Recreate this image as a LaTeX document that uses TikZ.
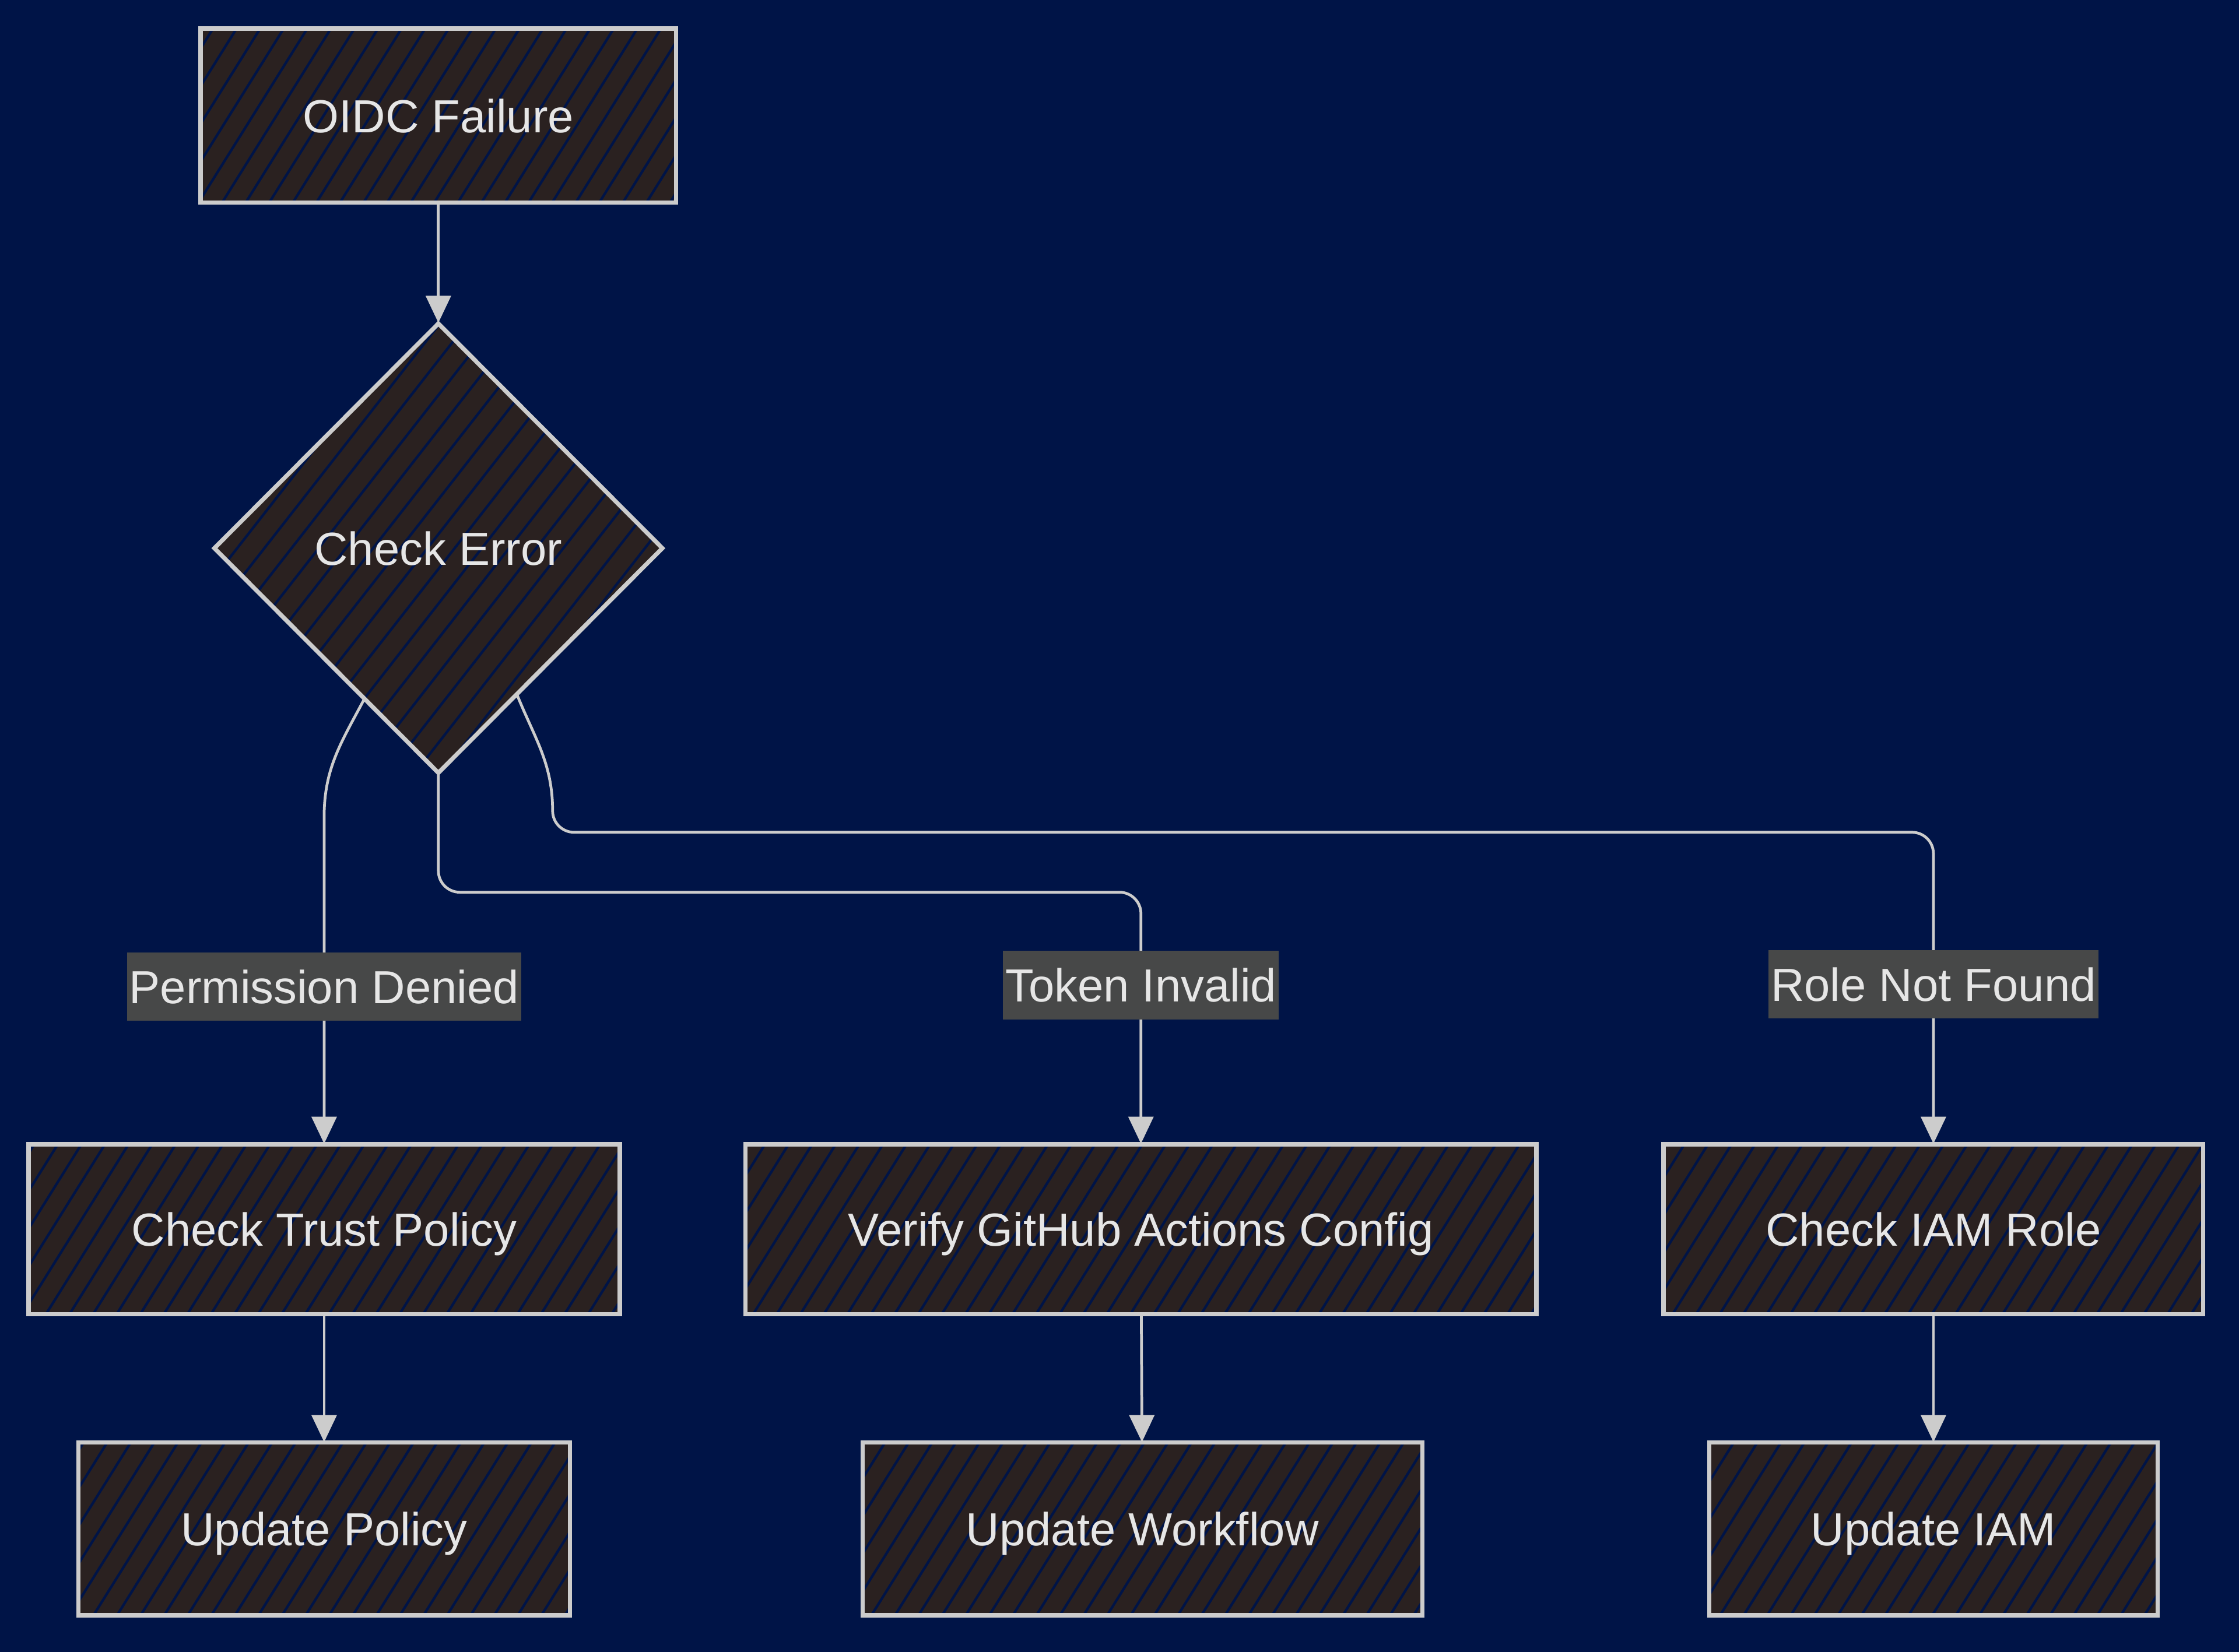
\documentclass[tikz,border=0pt]{standalone}
\usepackage{fontspec}
\setmainfont{Liberation Sans}
\usepackage{xcolor}
\usepackage{tikz}
\usetikzlibrary{shapes.geometric, arrows.meta, calc, patterns.meta}

\definecolor{bgblue}{HTML}{001447}
\definecolor{nodebrown}{HTML}{2A2120}
\definecolor{edgegray}{HTML}{CCCCCC}
\definecolor{labelgray}{HTML}{474848}
\definecolor{textgray}{HTML}{E6E6E6}

\begin{document}
\begin{tikzpicture}[x=0.2mm, y=-0.2mm, >={Triangle[length=0.38cm,width=0.35cm]},
    every node/.style={font=\fontsize{18.5}{22}\selectfont, text=textgray,
        text height=13.3pt, text depth=0pt},
    box/.style={rectangle, inner sep=0pt, fill=nodebrown,
        postaction={pattern={Lines[angle=58,distance=0.28cm,line width=1pt]}, pattern color=bgblue},
        postaction={draw=edgegray, line width=1.7pt}},
    scelta/.style={diamond, inner sep=0pt, fill=nodebrown,
        postaction={pattern={Lines[angle=52,distance=0.3cm,line width=1pt]}, pattern color=bgblue},
        postaction={draw=edgegray, line width=1.7pt}},
    lbl/.style={sharp corners, fill=labelgray, inner xsep=1pt, inner ysep=0pt, minimum height=0.96cm},
    conn/.style={->, draw=edgegray, line width=1.1pt}]
        % Sfondo e dimensioni
        \useasboundingbox (0,0) rectangle (1568,1157);
        \fill[bgblue] (0,0) rectangle (1568,1157);
        
        % Nodo iniziale e decisione
        \node[box, minimum width=6.66cm, minimum height=2.44cm] (oidc) at (307,81) {OIDC Failure};
        \node[scelta, minimum width=6.28cm, minimum height=6.3cm] (check) at (307,384) {Check Error};
        
        % Controlli
        \node[box, minimum width=8.28cm, minimum height=2.38cm] (trust) at (227,861) {Check Trust Policy};
        \node[box, minimum width=11.08cm, minimum height=2.38cm] (verify) at (799,861) {Verify GitHub Actions Config};
        \node[box, minimum width=7.56cm, minimum height=2.38cm] (iam) at (1354,861) {Check IAM Role};
        
        % Aggiornamenti
        \node[box, minimum width=6.88cm, minimum height=2.42cm] (upol) at (227,1071) {Update Policy};
        \node[box, minimum width=7.84cm, minimum height=2.42cm] (uwork) at (800,1071) {Update Workflow};
        \node[box, minimum width=6.28cm, minimum height=2.42cm] (uiam) at (1354,1071) {Update IAM};
        
        % Gomito del ramo destro
        \coordinate (gomito) at (iam.north |- 0,583);
        
        % Collegamenti
        \draw[conn] (oidc) -- (check);
        \draw[conn] ($(check.south)!0.33!(check.west)$) to[out=-118,in=90] (trust.north |- 0,572)
            -- node[lbl, pos=0.52] {Permission Denied} (trust.north);
        \draw[conn, rounded corners=0.3cm] (check.south) |- (verify.north |- 0,625)
            -- node[lbl, pos=0.37] {Token Invalid} (verify.north);
        \draw[conn] ($(check.south)!0.35!(check.east)$) to[out=-68,in=90] (387,568)
            to[out=-90,in=180] (402,583) -- ($(gomito)+(-15,0)$) to[out=0,in=90] ($(gomito)+(0,15)$)
            -- node[lbl, pos=0.45] {Role Not Found} (iam.north);
        
        % Frecce verso gli aggiornamenti
        \foreach \a/\b in {trust/upol, verify/uwork, iam/uiam} {
            \draw[conn] (\a) -- (\b);
        }
        
    \end{tikzpicture}
\end{document}
